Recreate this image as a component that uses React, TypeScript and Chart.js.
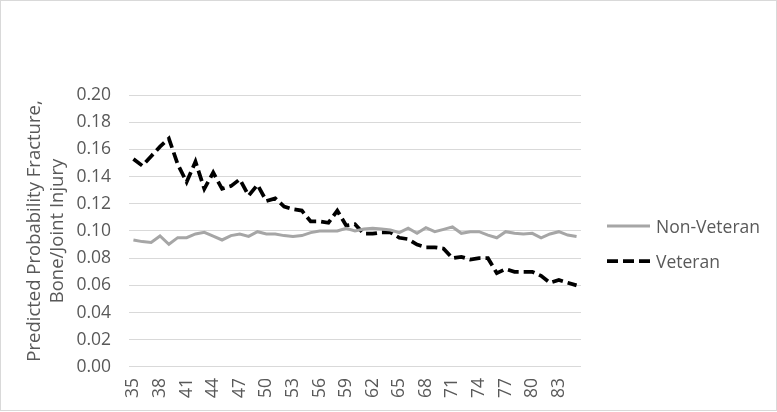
import React, { useEffect, useRef } from "react";
import { Chart, registerables } from "chart.js";

Chart.register(...registerables);

const ages = [
  "35", "36", "37", "38", "39", "40", "41", "42", "43", "44",
  "45", "46", "47", "48", "49", "50", "51", "52", "53", "54",
  "55", "56", "57", "58", "59", "60", "61", "62", "63", "64",
  "65", "66", "67", "68", "69", "70", "71", "72", "73", "74",
  "75", "76", "77", "78", "79", "80", "81", "82", "83", "84", "85",
];

const shownTickLabels = [
  "35", "38", "41", "44", "47", "50", "53", "56", "59",
  "62", "65", "68", "71", "74", "77", "80", "83",
];

const nonVeteran = [
  0.0934, 0.0922, 0.0915, 0.0963, 0.0902, 0.0951, 0.0951, 0.0978, 0.099, 0.0963,
  0.0934, 0.0966, 0.0978, 0.096, 0.0995, 0.0978, 0.0978, 0.0966, 0.096, 0.0966,
  0.0988, 0.1, 0.1, 0.1, 0.102, 0.1, 0.1015, 0.102, 0.1015, 0.1007,
  0.0988, 0.102, 0.0983, 0.1024, 0.0995, 0.1012, 0.103, 0.0983, 0.0995, 0.0995,
  0.097, 0.095, 0.0995, 0.0983, 0.0978, 0.0983, 0.095, 0.0978, 0.0995, 0.097, 0.0959,
];

const veteran = [
  0.153, 0.148, 0.155, 0.162, 0.168, 0.149, 0.136, 0.151, 0.131, 0.143,
  0.131, 0.133, 0.138, 0.126, 0.134, 0.122, 0.124, 0.118, 0.116, 0.115,
  0.107, 0.107, 0.106, 0.115, 0.104, 0.105, 0.098, 0.098, 0.099, 0.099,
  0.095, 0.094, 0.09, 0.088, 0.088, 0.087, 0.08, 0.081, 0.079, 0.08,
  0.08, 0.069, 0.072, 0.07, 0.07, 0.07, 0.067, 0.062, 0.064, 0.062, 0.06,
];

const seriesNames = ["Non-Veteran", "Veteran"];
const yTitle = ["Predicted Probability Fracture,", "Bone/Joint Injury"];

const FONT = "'Open Sans', 'Noto Sans', sans-serif";
const TEXT = "#595959";
const GRAY = "#a6a6a6";

export default function App() {
  const ref = useRef<HTMLCanvasElement | null>(null);

  useEffect(() => {
    document.body.style.margin = "0";
    const canvas = ref.current;
    if (!canvas) return;
    const chart = new Chart(canvas, {
      type: "line",
      data: {
        labels: ages,
        datasets: [
          {
            label: seriesNames[0],
            data: nonVeteran,
            borderColor: GRAY,
            borderWidth: 3,
            pointRadius: 0,
            tension: 0,
            fill: false,
          },
          {
            label: seriesNames[1],
            data: veteran,
            borderColor: "#000000",
            borderWidth: 3.75,
            borderDash: [11, 5],
            pointRadius: 0,
            tension: 0,
            fill: false,
          },
        ],
      },
      options: {
        responsive: false,
        animation: false,
        devicePixelRatio: 1,
        layout: { padding: { left: 23, right: 196, top: 95, bottom: 3 } },
        plugins: {
          legend: { display: false },
          tooltip: { enabled: false },
        },
        scales: {
          x: {
            offset: true,
            grid: { display: false, drawTicks: false },
            border: { display: false },
            ticks: {
              autoSkip: false,
              minRotation: 90,
              maxRotation: 90,
              padding: 11,
              color: TEXT,
              font: { family: FONT, size: 17.5 },
              callback: (_v: any, i: number) =>
                shownTickLabels.includes(ages[i]) ? ages[i] : "",
            },
          },
          y: {
            min: 0,
            max: 0.2,
            afterFit: (s: any) => {
              s.width = 106;
            },
            grid: { color: "#d9d9d9", lineWidth: 1, drawTicks: false },
            border: { display: false },
            ticks: {
              stepSize: 0.02,
              padding: 18,
              color: TEXT,
              font: { family: FONT, size: 17.5 },
              callback: (v: any) => Number(v).toFixed(2),
            },
            title: {
              display: true,
              text: yTitle,
              color: TEXT,
              font: { family: FONT, size: 18.5, lineHeight: 1.25 },
              padding: { top: 0, bottom: 4 },
            },
          },
        },
      },
    });
    return () => chart.destroy();
  }, []);

  const legendRow = (name: string, dashed: boolean) => (
    <div style={{ display: "flex", alignItems: "center", height: 35 }}>
      <svg width={44} height={6} style={{ display: "block" }}>
        <line
          x1={0}
          y1={3}
          x2={43}
          y2={3}
          stroke={dashed ? "#000" : GRAY}
          strokeWidth={dashed ? 3.75 : 3}
          strokeDasharray={dashed ? "11 5" : undefined}
        />
      </svg>
      <span style={{ marginLeft: 5, fontFamily: FONT, fontSize: 17.5, color: TEXT, lineHeight: "22px" }}>
        {name}
      </span>
    </div>
  );

  return (
    <div
      style={{
        position: "fixed",
        left: 0,
        top: 0,
        width: 777,
        height: 412,
        background: "#fff",
      }}
    >
      <canvas ref={ref} width={777} height={412} style={{ position: "absolute", left: 0, top: 0, width: 777, height: 412 }} />
      <div
        style={{
          position: "absolute",
          left: 0,
          top: 0,
          width: 775,
          height: 409,
          border: "1px solid #d9d9d9",
          pointerEvents: "none",
        }}
      />
      <div style={{ position: "absolute", left: 607, top: 208 }}>
        {legendRow(seriesNames[0], false)}
        {legendRow(seriesNames[1], true)}
      </div>
    </div>
  );
}
